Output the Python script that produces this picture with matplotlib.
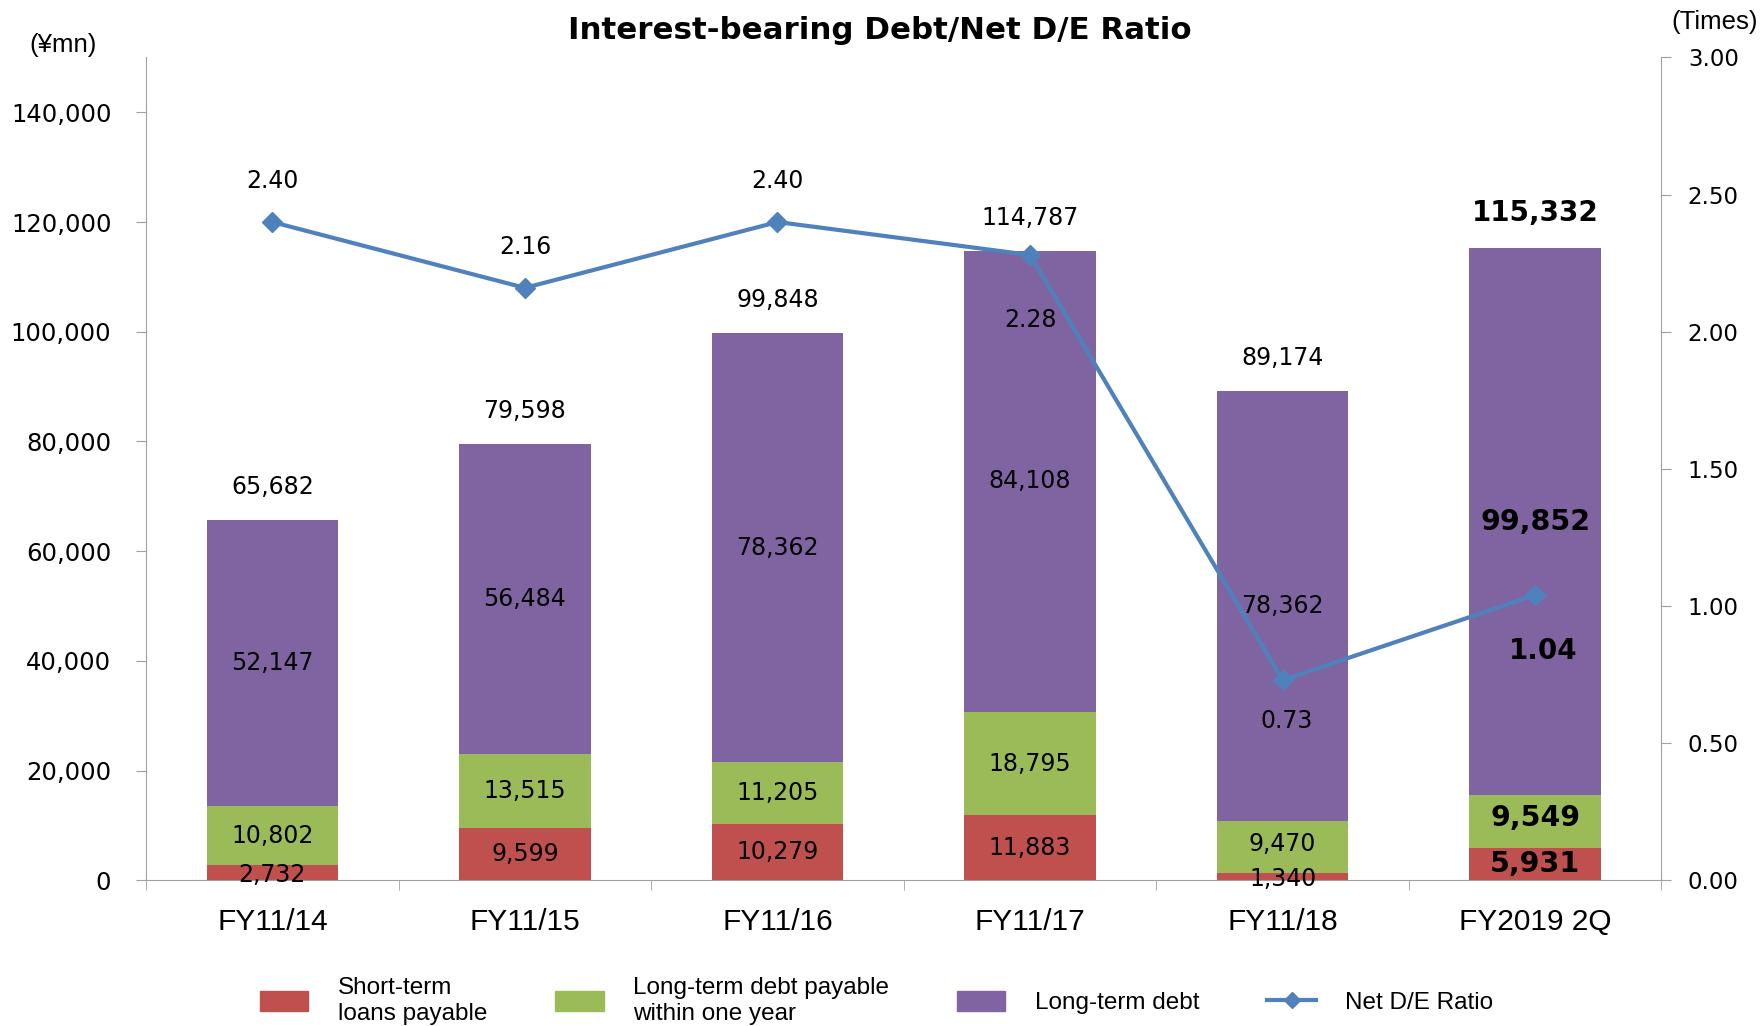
import matplotlib.pyplot as plt
import numpy as np
from matplotlib.lines import Line2D
from matplotlib.patches import Patch

# data
categories = ["FY11/14", "FY11/15", "FY11/16", "FY11/17", "FY11/18", "FY2019 2Q"]
short_term = [2732, 9599, 10279, 11883, 1340, 5931]
lt_current = [10802, 13515, 11205, 18795, 9470, 9549]
lt_debt = [52147, 56484, 78362, 84108, 78362, 99852]
totals = [65682, 79598, 99848, 114787, 89174, 115332]
de_ratio = [2.40, 2.16, 2.40, 2.28, 0.73, 1.04]

c_red = '#C0504D'
c_green = '#9BBB59'
c_purple = '#8064A2'
c_blue = '#4F81BD'
num_font = 'DejaVu Sans'
txt_font = 'Liberation Sans'

fig = plt.figure(figsize=(17.6, 10.26), dpi=100)
ax = fig.add_axes([0.083, 0.142, 0.861, 0.802])
x = np.arange(len(categories))
w = 0.52

b1 = ax.bar(x, short_term, w, color=c_red)
b2 = ax.bar(x, lt_current, w, bottom=short_term, color=c_green)
bottom3 = np.array(short_term) + np.array(lt_current)
b3 = ax.bar(x, lt_debt, w, bottom=bottom3, color=c_purple)

last = len(categories) - 1

def seg_label(i, y, val):
    bold = i == last
    ax.text(x[i], y, f"{val:,}", ha='center', va='center',
            fontsize=20.5 if bold else 17, fontweight='bold' if bold else 'normal',
            family=num_font, color='black', zorder=5)

for i in range(len(categories)):
    s, g, p = short_term[i], lt_current[i], lt_debt[i]
    seg_label(i, s / 2 if s > 3000 else s / 2 - 400, s)
    seg_label(i, s + g / 2 + (0 if g > 9700 else 600), g)
    seg_label(i, s + g + p / 2, p)
    bold = i == last
    ax.annotate(f"{totals[i]:,}", (x[i], s + g + p), xytext=(0, 15),
                textcoords='offset points', ha='center', va='bottom',
                fontsize=20 if bold else 17, fontweight='bold' if bold else 'normal',
                family=num_font)

ax.set_xlim(-0.5, len(categories) - 0.5)
ax.set_ylim(0, 150000)
ax.set_yticks(np.arange(0, 140001, 20000))
ax.set_yticklabels([f"{v:,}" for v in range(0, 140001, 20000)], family=num_font, fontsize=17.5)
ax.set_xticks(x)
ax.set_xticklabels(categories, family=txt_font, fontsize=21.5)
ax.set_xticks(np.arange(-0.5, len(categories)), minor=True)
ax.tick_params(axis='x', which='major', length=0, pad=20)
ax.tick_params(axis='x', which='minor', length=7, color='#A0A0A0', direction='out')
ax.tick_params(axis='y', length=7, color='#A0A0A0', direction='out', pad=18)
for sp in ['top', 'right']:
    ax.spines[sp].set_visible(False)
for sp in ['left', 'bottom']:
    ax.spines[sp].set_color('#A0A0A0')

ax2 = ax.twinx()
ax2.plot(x, de_ratio, color=c_blue, lw=3, marker='D', markersize=10, zorder=6)
ax2.set_ylim(0, 3.0)
ax2.set_yticks(np.arange(0, 3.01, 0.5))
ax2.set_yticklabels([f"{v:.2f}" for v in np.arange(0, 3.01, 0.5)], family=num_font, fontsize=16.5)
ax2.tick_params(axis='y', length=7, color='#A0A0A0', direction='out', pad=12)
for sp in ['top', 'left', 'bottom']:
    ax2.spines[sp].set_visible(False)
ax2.spines['right'].set_color('#A0A0A0')

ratio_offsets = [(0, 21), (0, 21), (0, 21), (0, -38), (3, -21), (6, -30)]
for i, r in enumerate(de_ratio):
    dx, dy = ratio_offsets[i]
    bold = i == last
    ax2.annotate(f"{r:.2f}", (x[i], r), xytext=(dx, dy), textcoords='offset points',
                 ha='center', va='bottom' if dy > 0 else 'top',
                 fontsize=20 if bold else 17, fontweight='bold' if bold else 'normal',
                 family=num_font)

fig.text(0.5, 0.97, "Interest-bearing Debt/Net D/E Ratio", ha='center', va='center',
         fontsize=22.2, fontweight='bold', family=num_font)
fig.text(0.036, 0.956, "(¥mn)", ha='center', va='center', fontsize=18.5, family=txt_font)
fig.text(0.974, 0.979, "(Times)", ha='center', va='center', fontsize=18.5, family=txt_font)

handles = [Patch(color=c_red), Patch(color=c_green), Patch(color=c_purple),
           Line2D([], [], color=c_blue, lw=3, marker='D', markersize=8)]
labels = ["Short-term\nloans payable", "Long-term debt payable\nwithin one year",
          "Long-term debt", "Net D/E Ratio"]
fig.legend(handles, labels, loc='lower center', bbox_to_anchor=(0.498, -0.02), ncol=4,
           frameon=False, prop={'family': txt_font, 'size': 17.5}, handlelength=2.0,
           handleheight=0.9, columnspacing=2.8, handletextpad=1.2)

fig.savefig("out.png", dpi=100)
